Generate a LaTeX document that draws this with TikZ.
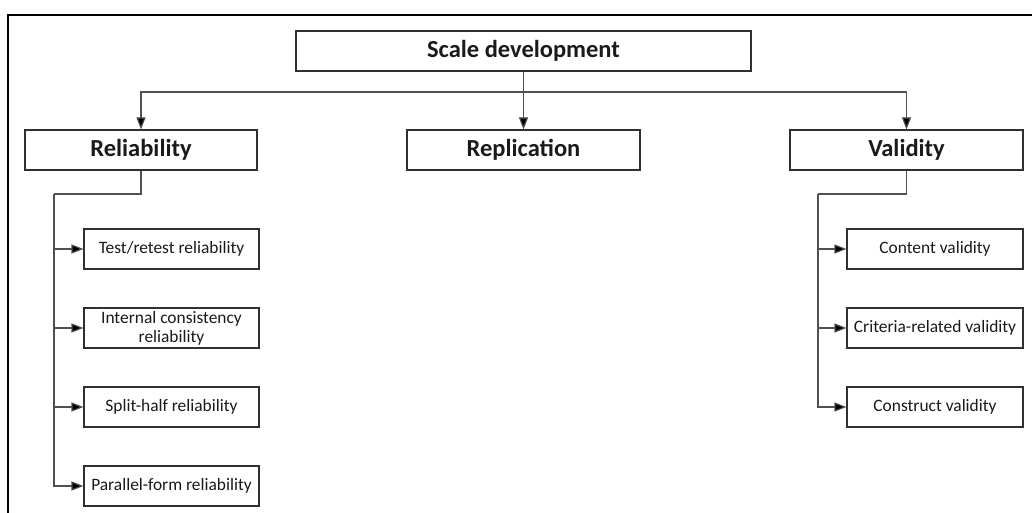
\documentclass[tikz,border=0pt]{standalone}
\usepackage{fontspec}
\setmainfont{Carlito}
\usetikzlibrary{arrows.meta}
\definecolor{linegray}{HTML}{505050}
\definecolor{boxline}{HTML}{303030}
\definecolor{inktext}{HTML}{1A1A1A}
\begin{document}
\begin{tikzpicture}[x=1pt,y=-1pt,
  headbox/.style={draw=boxline,line width=1.1pt,fill=white,minimum height=40pt,
    inner sep=0pt,text=inktext,font=\fontsize{24.5}{28}\selectfont\bfseries},
  subbox/.style={draw=boxline,line width=1.1pt,fill=white,minimum height=40pt,
    minimum width=175pt,inner sep=0pt,text=inktext,align=center,
    font=\fontsize{17.4}{20}\selectfont},
  link/.style={draw=linegray,line width=1.1pt},
  arr/.style={link,-{Triangle[length=12pt,width=9pt,fill=black]}}]
\useasboundingbox (0,0) rectangle (1032,513);
\fill[white] (0,0) rectangle (1032,513);
% outer frame, open at the right and bottom edges
\draw[black,line width=1.3pt] (8,513) -- (8,15) -- (1032,15);

% top level
\node[headbox,minimum width=455pt] (top) at (523.5,51) {Scale development};
\node[headbox,minimum width=232pt] (rel) at (141,150) {Reliability};
\node[headbox,minimum width=233pt] (rep) at (523.5,150) {Replication};
\node[headbox,minimum width=233pt] (val) at (906.5,150) {Validity};

% reliability branch
\node[subbox] (r1) at (171.5,249) {Test/retest reliability};
\node[subbox] (r2) at (171.5,328) {Internal consistency\\[-1pt]reliability};
\node[subbox] (r3) at (171.5,407) {Split-half reliability};
\node[subbox] (r4) at (171.5,486) {Parallel-form reliability};

% validity branch
\node[subbox,minimum width=176pt] (v1) at (935,249) {Content validity};
\node[subbox,minimum width=176pt] (v2) at (935,328) {Criteria-related validity};
\node[subbox,minimum width=176pt] (v3) at (935,407) {Construct validity};

% branching from the top box
\coordinate (bar) at (523.5,92);
\draw[arr] (top.south) -- (rep.north);
\draw[arr] (bar) -| (rel.north);
\draw[arr] (bar) -| (val.north);

% reliability spine
\coordinate (lsp) at (54,194);
\draw[link] (rel.south) |- (lsp);
\foreach \n in {r1,r2,r3,r4} \draw[arr] (lsp) |- (\n.west);

% validity spine
\coordinate (rsp) at (818,194);
\draw[link] (val.south) |- (rsp);
\foreach \n in {v1,v2,v3} \draw[arr] (rsp) |- (\n.west);
\end{tikzpicture}
\end{document}
